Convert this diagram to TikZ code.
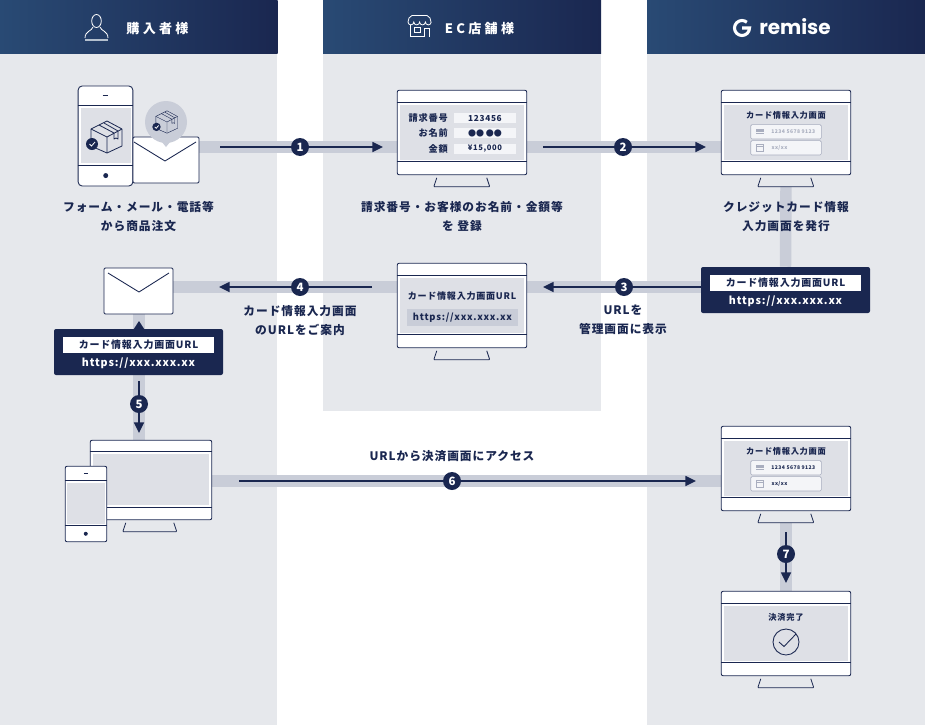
\documentclass[tikz,border=0pt]{standalone}
\usepackage{fontspec}
\usetikzlibrary{positioning,shapes,arrows.meta}
\newfontfamily\jp[LetterSpace=8]{Noto Sans CJK JP}
\newfontfamily\jpwide[LetterSpace=25]{Noto Sans CJK JP}
\newfontfamily\logofont{Poppins}
\definecolor{navy}{HTML}{1A2750}
\definecolor{headl}{HTML}{294A74}
\definecolor{panel}{HTML}{E6E8EC}
\definecolor{bandc}{HTML}{C9CDD8}
\definecolor{screenc}{HTML}{DEE0E6}
\definecolor{fieldc}{HTML}{F4F5F8}
\definecolor{faint}{HTML}{A9AEBF}
\pgfdeclarelayer{panels}
\pgfdeclarelayer{bands}
\pgfsetlayers{panels,bands,main}
\tikzset{
  parcel/.pic={
    \draw[navy,line join=round] (0,-16) -- (15,-8) -- (15,9) -- (0,16) -- (-16,9) -- (-16,-8) -- cycle;
    \draw[navy,line join=round] (-16,-8) -- (0,0) -- (15,-8) (0,0) -- (0,16);
    \draw[navy,line join=round] (-8,-12) -- (7,-4) -- (7,2) -- (9,1) -- (11,2) -- (11,-6) -- (-3,-14);
    \fill[navy] (-15,7) circle (6);
    \draw[white,line width=0.6pt] (-17.5,7) -- (-15.5,9) -- (-12,5);
  }
}
\begin{document}
\begin{tikzpicture}[
  x=0.75pt,y=-0.75pt,
  header/.style={left color=headl,right color=navy,draw=none,minimum width=208.5pt,minimum height=39.75pt,inner sep=0},
  headtext/.style={text=white,font=\jpwide\bfseries\fontsize{9.8pt}{11pt}\selectfont,inner sep=0},
  band/.style={bandc,line width=8.6pt},
  flow/.style={navy,line width=1.1pt},
  tip/.style={flow,-{Triangle[length=8pt,width=7.5pt]}},
  badge/.style={circle,fill=navy,text=white,inner sep=0,minimum size=13.5pt,font=\jp\bfseries\fontsize{8.6pt}{8.6pt}\selectfont},
  monitor/.style={draw=navy,fill=white,rounded corners=1.5pt,line width=0.65pt,minimum width=97.2pt,minimum height=63.4pt,inner sep=0},
  bigmon/.style={monitor,minimum width=91.2pt,minimum height=59.7pt},
  handset/.style={monitor},
  divider/.style={navy,line width=0.65pt},
  mail/.style={draw=navy,fill=white,rounded corners=1pt,line width=0.65pt,inner sep=0},
  flap/.style={navy,line width=0.65pt,line join=round},
  urlbox/.style={fill=navy,rounded corners=1.5pt,minimum width=126.75pt,minimum height=34.5pt,inner sep=0},
  urlbar/.style={fill=white,text=navy,minimum width=113.25pt,minimum height=12pt,inner sep=0,font=\jp\bfseries\fontsize{7.5pt}{8pt}\selectfont},
  urltext/.style={text=white,inner sep=0,font=\jp\bfseries\fontsize{8pt}{9pt}\selectfont},
  caption/.style={text=navy,align=center,inner sep=0,font=\jp\bfseries\fontsize{8.8pt}{14.25pt}\selectfont},
  small/.style={text=navy,inner sep=0,font=\jp\bfseries\fontsize{6.2pt}{7pt}\selectfont},
  rowlabel/.style={small,anchor=east,font=\jp\bfseries\fontsize{6.9pt}{8pt}\selectfont},
  field/.style={fill=fieldc,minimum width=46.5pt,minimum height=7.5pt,inner sep=0},
  cardfield/.style={draw=faint,fill=fieldc,rounded corners=1pt,line width=0.5pt,minimum width=53pt,minimum height=10.8pt,inner sep=0},
  cardtext/.style={inner sep=0,font=\jp\bfseries\fontsize{3.8pt}{5pt}\selectfont},
  stand/.style={draw=navy,line width=0.6pt,rounded corners=0.6pt}
]
\useasboundingbox (0,0) rectangle (925,725);
% panels and headers
\begin{pgfonlayer}{panels}
\fill[panel] (0,53) rectangle (277,725);
\fill[panel] (323,53) rectangle (601,411);
\fill[panel] (647,53) rectangle (925,725);
\end{pgfonlayer}
\node[header] (hbuyer) at (138.5,26.5) {};
\node[header] (hshop) at (462,26.5) {};
\node[header] (hremise) at (786,26.5) {};
\node[headtext] (tbuyer) at (157.5,28.5) {購入者様};
\node[headtext] (tshop) at (479.5,28.5) {EC店舗様};
\node[inner sep=0,text=white,font=\logofont\bfseries\fontsize{15pt}{16pt}\selectfont] (tremise) at (795,27) {remise};
% header icons
\draw[white,line width=0.6pt] (96.5,21) ellipse (4.8 and 6.5);
\draw[white,line width=0.6pt] (85,38) .. controls (85,31) and (92,31) .. (93,27);
\draw[white,line width=0.6pt] (108,38) .. controls (108,31) and (101,31) .. (100,27);
\draw[white!65!headl,line width=1pt] (85,40) -- (108,40);
\draw[white,line width=0.6pt] (408,22) -- (409,18) -- (412,15.5) -- (427,15.5) -- (430,18) -- (431,22);
\draw[white,line width=0.6pt] (408,22) arc (180:0:2.9) arc (180:0:2.9) arc (180:0:2.9) arc (180:0:2.9);
\draw[white,line width=0.6pt] (410,25) -- (410,36.5) -- (424,36.5) -- (424,28.5) -- (429,28.5) -- (429,37);
\draw[white,line width=0.6pt] (414,27) rectangle (420,32);
\draw[white,line width=2.3pt] (742,28) -- (749.5,28) arc (0:310:7.5);

% monitors
\foreach \nm/\cx/\cy in {ecform/462/132.5,remform/786/132.5,ecurl/462/305.5,remcard/786/468.5,remdone/786/633.5}{
  \node[monitor] (\nm) at (\cx,\cy) {};
  \begin{scope}[shift={(\nm.north west)}]
    \fill[screenc] (3,15.5) rectangle (127,70);
    \draw[divider] (0,13) -- (130,13) (0,72) -- (130,72);
    \draw[stand] (40,88) -- (37,97) -- (93,97) -- (90,88);
  \end{scope}
}
\node[bigmon] (bigscreen) at (151,480) {};
\begin{scope}[shift={(bigscreen.north west)}]
  \fill[screenc] (3,14.5) rectangle (119,65.5);
  \draw[divider] (0,12) -- (122,12) (0,68) -- (122,68);
  \draw[stand] (36,83) -- (33,92) -- (87,92) -- (84,83);
\end{scope}
\node[handset,minimum width=31.2pt,minimum height=56.7pt] (handsmall) at (86,504) {};
\begin{scope}[shift={(handsmall.north west)}]
  \fill[screenc] (2,17) rectangle (40,58);
  \draw[divider] (0,15) -- (42,15) (0,60) -- (42,60);
  \draw[navy,line width=0.7pt] (19,7.5) -- (23,7.5);
  \fill[navy] (21,68) circle (2);
\end{scope}
% order phone, mail and bubble
\node[handset,minimum width=41pt,minimum height=75pt,rounded corners=3pt] (handorder) at (105.5,136) {};
\begin{scope}[shift={(handorder.north west)}]
  \fill[screenc] (3,22) rectangle (53,77);
  \draw[divider] (0,20) -- (55,20) (0,80) -- (55,80);
  \draw[navy,line width=0.7pt] (25,10) -- (30,10);
  \fill[navy] (28,90) circle (2.5);
\end{scope}
\pic[line width=0.6pt] at (107,137) {parcel};
\node[mail,minimum width=49.5pt,minimum height=34.5pt] (mailtop) at (166,160) {};
\draw[flap] (134,142) -- (165,161) -- (196,142);
\fill[bandc] (166,122) circle (21);
\fill[bandc] (162,142) -- (170,142) -- (166,147) -- cycle;
\pic[scale=0.7,line width=0.3pt] at (167,122) {parcel};
\node[mail,minimum width=51.75pt,minimum height=34.5pt] (mailleft) at (138.5,291) {};
\draw[flap] (108,273) -- (139,292) -- (169,273);

% url callouts
\node[urlbox] (urlright) at (785.5,290) {};
\node[urlbox] (urlleft) at (138.5,352) {};
\fill[navy] (139,321) -- (144.5,329.5) -- (133.5,329.5) -- cycle;
\node[urlbar] (barright) at (785.5,283) {カード情報入力画面URL};
\node[urltext] (webright) at (785.5,301.5) {https://xxx.xxx.xx};
\node[urlbar] (barleft) at (138.5,345) {カード情報入力画面URL};
\node[urltext] (webleft) at (138.5,363.5) {https://xxx.xxx.xx};

% connectors
\node[badge] (n1) at (300,147) {1};
\node[badge] (n2) at (623,147) {2};
\node[badge] (n3) at (624,287) {3};
\node[badge] (n4) at (300,287) {4};
\node[badge] (n5) at (139,404) {5};
\node[badge] (n6) at (452,481) {6};
\node[badge] (n7) at (786,554) {7};
\coordinate (standa) at (786,187);
\coordinate (standb) at (786,523);
\coordinate (s1) at (220,147);
\coordinate (e1) at (383,147);
\coordinate (s2) at (543,147);
\coordinate (e2) at (706,147);
\coordinate (s3) at (701,287);
\coordinate (e3) at (543,287);
\coordinate (s4) at (372,287);
\coordinate (e4) at (219,287);
\coordinate (s5) at (139,381);
\coordinate (e5) at (139,433);
\coordinate (s6) at (239,481);
\coordinate (e6) at (696,481);
\coordinate (s7) at (786,532);
\coordinate (e7) at (786,583);
\begin{pgfonlayer}{bands}
\draw[band] (mailtop.east |- n1) -- (ecform.west |- n1);
\draw[band] (ecform.east |- n2) -- (remform.west |- n2);
\draw[band] (standa) -- (urlright.north);
\draw[band] (ecurl.east |- n3) -- (urlright.west |- n3);
\draw[band] (mailleft.east |- n4) -- (ecurl.west |- n4);
\draw[band] (n5 |- mailleft.south) -- (n5 |- bigscreen.north);
\draw[band] (bigscreen.east |- n6) -- (remcard.west |- n6);
\draw[band] (standb) -- (remdone.north);
\end{pgfonlayer}
\draw[flow] (s1) -- (n1);
\draw[tip] (n1) -- (e1);
\draw[flow] (s2) -- (n2);
\draw[tip] (n2) -- (e2);
\draw[flow] (s3) -- (n3);
\draw[tip] (n3) -- (e3);
\draw[flow] (s4) -- (n4);
\draw[tip] (n4) -- (e4);
\draw[flow] (s5) -- (n5);
\draw[tip] (n5) -- (e5);
\draw[flow] (s6) -- (n6);
\draw[tip] (n6) -- (e6);
\draw[flow] (s7) -- (n7);
\draw[tip] (n7) -- (e7);

% screen contents
\node[rowlabel] (ecno) at (448,118) {請求番号};
\node[rowlabel] (ecname) at (448,133) {お名前};
\node[rowlabel] (ecsum) at (448,148.5) {金額};
\node[field] (fno) at (485,118) {};
\node[field] (fname) at (485,133) {};
\node[field] (fsum) at (485,148.5) {};
\node[small] (vno) at (485,118) {123456};
\node[small,font=\fontspec{Noto Sans CJK JP}\fontsize{6pt}{7pt}\selectfont] (vname) at (485,133) {●● ●●};
\node[small,font=\jp\bfseries\fontsize{5.7pt}{7pt}\selectfont] (vsum) at (485,148.5) {¥15,000};
\foreach \nm/\tc in {remform/faint,remcard/navy}{
  \node[small] (\nm title) at ([yshift=-19.5pt]\nm.north) {カード情報入力画面};
  \node[cardfield] (\nm a) at ([yshift=-31.5pt]\nm.north) {};
  \node[cardfield] (\nm b) at ([yshift=-43.5pt]\nm.north) {};
  \node[cardtext,text=\tc] (\nm num) at ([xshift=5.5pt]\nm a.center) {1234 5678 9123};
  \node[cardtext,anchor=west,text=\tc] (\nm exp) at ([xshift=-11pt]\nm b.center) {xx/xx};
  \fill[faint] ([shift={(-22.5pt,-2pt)}]\nm a.center) rectangle ([shift={(-16.5pt,2pt)}]\nm a.center);
  \draw[fieldc,line width=0.4pt] ([shift={(-22.5pt,-0.6pt)}]\nm a.center) -- ([shift={(-16.5pt,-0.6pt)}]\nm a.center);
  \draw[faint,line width=0.5pt] ([shift={(-22pt,-2.5pt)}]\nm b.center) rectangle ([shift={(-17pt,2.5pt)}]\nm b.center);
  \draw[faint,line width=0.5pt] ([shift={(-22pt,1pt)}]\nm b.center) -- ([shift={(-17pt,1pt)}]\nm b.center);
}
\node[small,font=\jp\bfseries\fontsize{6.8pt}{8pt}\selectfont] (urltitle) at (462,296) {カード情報入力画面URL};
\node[fill=bandc,minimum width=83.25pt,minimum height=12.75pt,inner sep=0] (urlfield) at (462.5,317.5) {};
\node[urltext,text=navy,font=\jp\bfseries\fontsize{7pt}{8pt}\selectfont] (urlvalue) at (462.5,318) {https://xxx.xxx.xx};
\node[small] (donetitle) at (786,617) {決済完了};
\node[circle,draw=navy,line width=0.65pt,minimum size=19.5pt,inner sep=0] (donemark) at (786,642) {};
\draw[navy,line width=0.65pt] (779,642) -- (784,646.5) -- (796,634);

% captions
\node[caption] (capa) at (138.5,216.5) {フォーム・メール・電話等\\から商品注文};
\node[caption] (capb) at (462,216.5) {請求番号・お客様のお名前・金額等\\を 登録};
\node[caption] (capc) at (786,216.5) {クレジットカード情報\\入力画面を発行};
\node[caption] (capd) at (300,321) {カード情報入力画面\\のURLをご案内};
\node[caption] (cape) at (623,319.5) {URLを\\管理画面に表示};
\node[caption] (capf) at (452,456) {URLから決済画面にアクセス};
\end{tikzpicture}
\end{document}
